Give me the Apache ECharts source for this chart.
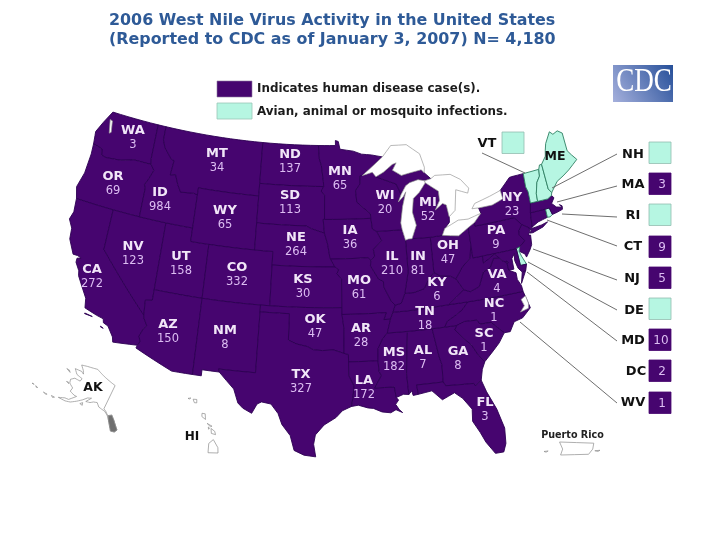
<!DOCTYPE html>
<html><head><meta charset="utf-8">
<style>html,body{margin:0;padding:0;background:#fff}#c{width:720px;height:540px}</style>
<script src="https://cdn.jsdelivr.net/npm/echarts@6/dist/echarts.min.js"></script>
</head><body><div id="c"></div>
<script>
// ---------- data ----------
const titleLines = ['2006 West Nile Virus Activity in the United States','(Reported to CDC as of January 3, 2007) N= 4,180'];
const legendLabels = ['Indicates human disease case(s).','Avian, animal or mosquito infections.'];
const humanStates = ['WA','OR','ID','MT','ND','SD','WY','NV','CA','UT','CO','NE','KS','AZ','NM','OK','TX','MN','IA','MO','AR','LA','MS','AL','TN','KY','IL','IN','WI','MI','OH','PA','NY','VA','NC','SC','GA','FL'];
const humanCases =  [3,69,984,34,137,113,65,123,272,158,332,264,30,150,8,47,327,65,36,61,28,172,182,7,18,6,210,81,20,52,47,9,23,4,1,1,8,3];
const calloutStates = ['VT','NH','MA','RI','CT','NJ','DE','MD','DC','WV'];
const calloutCases =  [null,null,3,null,9,5,null,10,2,1];
const otherInfectionLabelled = ['ME'];

// ---------- state outlines, lon/lat ----------
const outlines = {
WA:[[[-124.15,47.2],[-123.55,48.05],[-122.76,49],[-117.03,49],[-117.04,46.42],[-116.92,45.99],[-118.98,46],[-119.3,45.93],[-120.5,45.7],[-121.2,45.65],[-122.2,45.58],[-122.75,45.65],[-122.9,46.1],[-123.4,46.2],[-124,46.27],[-124.1,46.9]]],
OR:[[[-124,46.27],[-123.4,46.2],[-122.9,46.1],[-122.75,45.65],[-122.2,45.58],[-121.2,45.65],[-120.5,45.7],[-119.3,45.93],[-118.98,46],[-116.92,45.99],[-116.46,45.6],[-116.85,44.9],[-117.2,44.4],[-117.03,44.2],[-117.03,42],[-120,42],[-124.21,42],[-124.55,42.84],[-124.1,44],[-123.95,45.5]]],
CA:[[[-124.21,42],[-120,42],[-120,39],[-114.63,35],[-114.57,34.8],[-114.14,34.27],[-114.43,34],[-114.72,33.4],[-114.52,33.03],[-114.72,32.72],[-117.12,32.53],[-117.25,32.9],[-117.9,33.6],[-118.4,33.75],[-118.5,34.03],[-119.2,34.15],[-120.5,34.45],[-120.65,35.15],[-121.9,36.6],[-122,36.95],[-122.5,37.5],[-122.5,37.8],[-122.1,37.9],[-122.5,38],[-123,38],[-123.75,39],[-123.85,39.8],[-124.35,40.4],[-124.1,41]],[[-120.4,34.03],[-119.6,33.98],[-119.6,34.05],[-120.4,34.08]],[[-118.6,33.45],[-118.3,33.35],[-118.35,33.3],[-118.6,33.4]]],
NV:[[[-120,42],[-117.03,42],[-114.04,42],[-114.04,37],[-114.04,36.2],[-114.74,36.1],[-114.63,35],[-120,39]]],
UT:[[[-114.04,42],[-111.05,42],[-111.05,41],[-109.05,41],[-109.05,37],[-114.04,37]]],
AZ:[[[-114.04,37],[-109.05,37],[-109.05,31.33],[-111.07,31.33],[-114.81,32.5],[-114.72,32.72],[-114.52,33.03],[-114.72,33.4],[-114.43,34],[-114.14,34.27],[-114.57,34.8],[-114.63,35],[-114.74,36.1],[-114.04,36.2]]],
ID:[[[-117.03,49],[-116.05,49],[-116.05,48],[-115.7,47.45],[-114.7,46.7],[-114.35,46.65],[-114.5,45.55],[-113.9,45.65],[-113.45,44.95],[-113,44.45],[-111.5,44.55],[-111.05,44.48],[-111.05,42],[-114.04,42],[-117.03,42],[-117.03,44.2],[-117.2,44.4],[-116.85,44.9],[-116.46,45.6],[-116.92,45.99],[-117.04,46.42]]],
MT:[[[-116.05,49],[-104.05,49],[-104.05,45.94],[-104.05,45],[-111.05,45],[-111.05,44.48],[-111.5,44.55],[-113,44.45],[-113.45,44.95],[-113.9,45.65],[-114.5,45.55],[-114.35,46.65],[-114.7,46.7],[-115.7,47.45],[-116.05,48]]],
WY:[[[-111.05,45],[-104.05,45],[-104.05,43],[-104.05,41],[-109.05,41],[-111.05,41]]],
CO:[[[-109.05,41],[-104.05,41],[-102.05,41],[-102.05,40],[-102.05,37],[-103,37],[-109.05,37]]],
NM:[[[-109.05,37],[-103,37],[-103,36.5],[-103.04,32],[-106.62,32],[-106.53,31.78],[-108.2,31.78],[-108.2,31.33],[-109.05,31.33]]],
ND:[[[-104.05,49],[-97.23,49],[-97.1,48],[-96.85,47.5],[-96.6,46.3],[-96.56,45.94],[-104.05,45.94]]],
SD:[[[-104.05,45.94],[-96.56,45.94],[-96.85,45.6],[-96.45,45.3],[-96.45,43.5],[-96.6,43.5],[-96.45,42.49],[-97.9,42.8],[-98.5,43],[-104.05,43]]],
NE:[[[-104.05,43],[-98.5,43],[-97.9,42.8],[-96.45,42.49],[-96.1,41.7],[-95.85,40.7],[-95.77,40.58],[-95.31,40],[-102.05,40],[-102.05,41],[-104.05,41]]],
KS:[[[-102.05,40],[-95.31,40],[-94.9,39.8],[-95.1,39.5],[-94.61,39.1],[-94.62,37],[-102.05,37]]],
OK:[[[-103,37],[-102.05,37],[-94.62,37],[-94.62,36.5],[-94.43,35.4],[-94.48,33.64],[-95.5,33.9],[-96.6,33.85],[-97.5,33.9],[-98.1,34.13],[-99.2,34.3],[-100,34.56],[-100,36.5],[-103,36.5]]],
TX:[[[-103,36.5],[-100,36.5],[-100,34.56],[-99.2,34.3],[-98.1,34.13],[-97.5,33.9],[-96.6,33.85],[-95.5,33.9],[-94.48,33.64],[-94.04,33.55],[-94.04,33],[-94.04,32],[-93.55,31.2],[-93.7,30.3],[-93.85,29.7],[-94.7,29.4],[-95.3,28.9],[-96.4,28.35],[-97.2,27.6],[-97.35,26.9],[-97.15,25.96],[-98.2,26.07],[-99.1,26.4],[-99.5,27.5],[-100.3,28.3],[-100.7,29.1],[-101.4,29.77],[-102.3,29.88],[-102.7,29.7],[-103.15,28.98],[-104,29.3],[-104.5,29.65],[-105,30.65],[-106.53,31.78],[-106.62,32],[-103.04,32]]],
MN:[[[-97.23,49],[-95.15,49],[-95.15,49.38],[-94.8,49.3],[-94.6,48.72],[-93,48.55],[-92,48.3],[-90.8,48.2],[-89.5,48],[-92,46.7],[-92.29,46.66],[-92.29,46.1],[-92.85,45.6],[-92.75,44.75],[-91.25,43.85],[-91.22,43.5],[-96.45,43.5],[-96.45,45.3],[-96.85,45.6],[-96.56,45.94],[-96.6,46.3],[-96.85,47.5],[-97.1,48]]],
IA:[[[-96.45,43.5],[-91.22,43.5],[-91.1,42.7],[-90.64,42.51],[-90.15,41.8],[-91.1,41.2],[-91,40.7],[-91.42,40.38],[-91.73,40.61],[-95.77,40.58],[-95.85,40.7],[-96.1,41.7],[-96.45,42.49],[-96.6,43.5]]],
MO:[[[-95.77,40.58],[-91.73,40.61],[-91.42,40.38],[-91.5,40],[-90.7,39],[-90.2,38.8],[-90.2,38.4],[-89.5,37.3],[-89.13,37],[-89.4,36.5],[-89.7,36],[-90.37,36],[-90.1,36.5],[-94.62,36.5],[-94.62,37],[-94.61,39.1],[-95.1,39.5],[-94.9,39.8],[-95.31,40]]],
AR:[[[-94.62,36.5],[-90.1,36.5],[-90.37,36],[-89.7,36],[-90.1,35],[-90.6,34.6],[-91.1,33.9],[-91.17,33],[-94.04,33],[-94.04,33.55],[-94.48,33.64],[-94.43,35.4]]],
LA:[[[-94.04,33],[-91.17,33],[-91.1,32.2],[-90.9,31.9],[-91.6,31],[-89.73,31],[-89.6,30.2],[-89.4,30],[-89.7,29.7],[-89.4,29.3],[-89.1,29.05],[-89.7,29.3],[-90.2,29.1],[-91,29.2],[-91.8,29.5],[-92.3,29.55],[-93.2,29.78],[-93.85,29.7],[-93.7,30.3],[-93.55,31.2],[-94.04,32]]],
MS:[[[-90.1,35],[-88.2,35],[-88.1,34.9],[-88.47,31.9],[-88.4,30.35],[-88.9,30.4],[-89.6,30.2],[-89.73,31],[-91.6,31],[-90.9,31.9],[-91.1,32.2],[-91.17,33],[-91.1,33.9],[-90.6,34.6]]],
AL:[[[-88.2,35],[-85.6,35],[-85.18,32.87],[-85,32.3],[-85.05,31],[-87.6,31],[-87.5,30.3],[-88,30.25],[-88.1,30.6],[-88.4,30.35],[-88.47,31.9],[-88.1,34.9]]],
GA:[[[-85.6,35],[-84.32,35],[-83.1,35],[-83.35,34.7],[-82.55,33.95],[-81.9,33.4],[-81.4,32.6],[-80.85,32.03],[-81.2,31.5],[-81.45,30.72],[-82.05,30.36],[-82.2,30.57],[-84.86,30.7],[-85.05,31],[-85,32.3],[-85.18,32.87]]],
FL:[[[-87.6,31],[-85.05,31],[-84.86,30.7],[-82.2,30.57],[-82.05,30.36],[-81.45,30.72],[-81.1,29.8],[-80.4,28.4],[-79.95,26.9],[-80.05,25.75],[-80.35,25.15],[-81.1,25.15],[-81.8,26.1],[-82.2,26.9],[-82.75,27.8],[-82.65,28.7],[-83.4,29.6],[-84.1,30.1],[-85.3,29.7],[-86.2,30.45],[-87.5,30.3]]],
TN:[[[-90.1,35],[-88.2,35],[-85.6,35],[-84.32,35],[-84,35.4],[-83,35.78],[-82.4,36.05],[-81.68,36.59],[-83.68,36.6],[-88.07,36.5],[-89.4,36.5],[-89.7,36]]],
NC:[[[-84.32,35],[-83.1,35],[-82.3,35.2],[-81.05,35.15],[-80.8,34.82],[-79.68,34.8],[-78.55,33.86],[-77.95,33.85],[-77.4,34.5],[-76.5,34.65],[-75.55,35.25],[-75.95,36.55],[-81.68,36.59],[-82.4,36.05],[-83,35.78],[-84,35.4]]],
SC:[[[-83.1,35],[-82.3,35.2],[-81.05,35.15],[-80.8,34.82],[-79.68,34.8],[-78.55,33.86],[-79.2,33.2],[-79.9,32.7],[-80.85,32.03],[-81.4,32.6],[-81.9,33.4],[-82.55,33.95],[-83.35,34.7]]],
VA:[[[-83.68,36.6],[-81.68,36.59],[-75.95,36.55],[-76,37],[-76.3,37.5],[-76.3,38],[-77,38.3],[-77.04,38.79],[-77.12,38.93],[-77.5,39.1],[-77.72,39.32],[-78.35,39.4],[-78.87,38.77],[-79.65,38.55],[-80.3,37.55],[-81.3,37.3],[-81.95,37.53]],[[-75.65,37.95],[-75.25,38.03],[-75.95,37.15]]],
WV:[[[-81.95,37.53],[-81.3,37.3],[-80.3,37.55],[-79.65,38.55],[-78.87,38.77],[-78.35,39.4],[-77.72,39.32],[-78.2,39.69],[-79.48,39.21],[-79.48,39.72],[-80.52,39.72],[-80.52,40.64],[-80.87,39.7],[-81.75,39.2],[-82.6,38.4]]],
KY:[[[-89.4,36.5],[-88.07,36.5],[-83.68,36.6],[-81.95,37.53],[-82.6,38.4],[-83.1,38.65],[-84.2,38.8],[-84.82,39.1],[-85.4,38.7],[-86,38],[-87.1,37.8],[-88.05,37.8],[-88.5,37.1],[-89.13,37]]],
OH:[[[-84.82,39.1],[-84.2,38.8],[-83.1,38.65],[-82.6,38.4],[-81.75,39.2],[-80.87,39.7],[-80.52,40.64],[-80.52,41.98],[-81.7,41.5],[-83.45,41.72],[-84.8,41.7]]],
IN:[[[-87.53,41.7],[-87.2,41.76],[-86.8,41.76],[-84.8,41.7],[-84.82,39.1],[-85.4,38.7],[-86,38],[-87.1,37.8],[-88.05,37.8],[-87.53,39.35]]],
IL:[[[-90.64,42.51],[-87.8,42.49],[-87.53,41.7],[-87.53,39.35],[-88.05,37.8],[-88.5,37.1],[-89.13,37],[-89.5,37.3],[-90.2,38.4],[-90.2,38.8],[-90.7,39],[-91.5,40],[-91.42,40.38],[-91,40.7],[-91.1,41.2],[-90.15,41.8]]],
WI:[[[-92.29,46.66],[-92,46.7],[-90.8,46.9],[-90.4,46.55],[-88.1,45.9],[-87.6,45.1],[-88,44.55],[-87.4,44.9],[-87.05,45.25],[-87.55,44.2],[-87.9,43],[-87.8,42.49],[-90.64,42.51],[-91.1,42.7],[-91.22,43.5],[-91.25,43.85],[-92.75,44.75],[-92.85,45.6],[-92.29,46.1]]],
MI:[[[-90.4,46.55],[-89.5,46.85],[-88.4,47.37],[-87.9,47.47],[-88.4,46.95],[-87.4,46.5],[-86.1,46.65],[-85,46.75],[-84.7,46.5],[-84,46],[-84.75,45.9],[-85.5,46.05],[-86.5,45.9],[-87,45.7],[-87.6,45.1],[-88.1,45.9]],[[-86.8,41.76],[-84.8,41.7],[-83.45,41.72],[-83.1,42.2],[-82.5,42.6],[-82.45,43],[-82.6,43.9],[-83,44.05],[-83.9,43.65],[-83.3,44.3],[-83.3,45],[-84.7,45.75],[-85.5,45.1],[-86.25,44.7],[-86.5,43.7],[-86.2,42.7]]],
PA:[[[-80.52,41.98],[-79.76,42.27],[-79.76,42],[-75.35,42],[-74.7,41.36],[-75.13,40.98],[-75.2,40.65],[-74.72,40.15],[-75.4,39.8],[-75.79,39.72],[-79.48,39.72],[-80.52,39.72],[-80.52,40.64]]],
NY:[[[-79.76,42.27],[-78.9,42.85],[-79.05,43.27],[-77.5,43.27],[-76.2,43.55],[-76.3,44.2],[-75,44.98],[-74.7,45],[-73.34,45],[-73.4,44],[-73.25,43.6],[-73.27,42.75],[-73.5,42.05],[-73.65,41],[-73.9,40.8],[-74,41],[-74.7,41.36],[-75.35,42],[-79.76,42]],[[-74,40.6],[-73.7,40.9],[-72.6,40.97],[-71.9,41.07],[-72.5,40.8],[-73.7,40.58]]],
NJ:[[[-74.7,41.36],[-74,41],[-74,40.7],[-74.25,40.5],[-74,40.45],[-74.1,39.75],[-74.4,39.4],[-74.9,38.95],[-75,39.2],[-75.55,39.5],[-75.4,39.8],[-74.72,40.15],[-75.2,40.65],[-75.13,40.98]]],
DE:[[[-75.79,39.72],[-75.4,39.8],[-75.55,39.5],[-75.4,39.1],[-75.05,38.45],[-75.7,38.45]]],
MD:[[[-79.48,39.72],[-75.79,39.72],[-75.7,38.45],[-75.05,38.45],[-75.25,38.03],[-75.65,37.95],[-76,38.3],[-76.2,38.9],[-76.1,39.4],[-76.45,39.1],[-76.45,38.3],[-77,38.3],[-77.04,38.79],[-76.91,38.89],[-77.04,39],[-77.12,38.93],[-77.5,39.1],[-77.72,39.32],[-78.2,39.69],[-79.48,39.21]]],
DC:[[[-77.12,38.93],[-77.04,39],[-76.91,38.89],[-77.04,38.79]]],
CT:[[[-73.5,42.05],[-71.8,42.02],[-71.8,41.4],[-72.9,41.25],[-73.65,41]]],
RI:[[[-71.8,42.02],[-71.38,42.02],[-71.2,41.5],[-71.5,41.37],[-71.8,41.4]]],
MA:[[[-73.5,42.05],[-73.27,42.75],[-72.45,42.73],[-71.3,42.7],[-70.8,42.87],[-70.6,42.65],[-71,42.3],[-70.6,41.95],[-70,41.8],[-70.2,42.05],[-69.95,41.9],[-70,41.65],[-70.65,41.55],[-71.2,41.5],[-71.38,42.02],[-71.8,42.02]]],
VT:[[[-73.34,45],[-71.5,45],[-71.6,44.5],[-72.05,44.1],[-72.4,43.3],[-72.45,42.73],[-73.27,42.75],[-73.25,43.6],[-73.4,44]]],
NH:[[[-71.5,45],[-71.3,45.3],[-71.05,45.3],[-70.98,43.4],[-70.7,43.07],[-70.8,42.87],[-71.3,42.7],[-72.45,42.73],[-72.4,43.3],[-72.05,44.1],[-71.6,44.5]]],
ME:[[[-71.05,45.3],[-70.4,45.8],[-70.25,46.2],[-70,46.7],[-69.23,47.46],[-68.9,47.2],[-68.3,47.35],[-67.8,47.07],[-67.8,45.7],[-67.45,45.3],[-67,44.85],[-68.2,44.3],[-69,44],[-69.8,43.75],[-70.7,43.07],[-70.98,43.4]]]
};
const lakes = {
Superior:[[[-92,46.7],[-89.5,48],[-88.4,48.8],[-86.5,48.75],[-85,47.95],[-84.6,46.9],[-84.7,46.5],[-85,46.75],[-86.1,46.65],[-87.4,46.5],[-88.4,46.95],[-87.9,47.47],[-88.4,47.37],[-89.5,46.85],[-90.4,46.55],[-90.8,46.9]]],
Michigan:[[[-87,45.7],[-86.5,45.9],[-85.5,46.05],[-84.75,45.9],[-84.7,45.75],[-85.5,45.1],[-86.25,44.7],[-86.5,43.7],[-86.2,42.7],[-86.8,41.76],[-87.2,41.76],[-87.53,41.7],[-87.8,42.49],[-87.9,43],[-87.55,44.2],[-87.05,45.25],[-87.4,44.9],[-88,44.55],[-87.6,45.1]]],
Huron:[[[-84,46],[-84.75,45.9],[-84.7,45.75],[-83.3,45],[-83.3,44.3],[-83.9,43.65],[-83,44.05],[-82.6,43.9],[-82.45,43],[-81.7,43.4],[-81.3,44.9],[-80,44.5],[-79.8,44.85],[-80.6,45.6],[-81.7,46.1],[-83.5,46.2]]],
Erie:[[[-83.45,41.72],[-81.7,41.5],[-80.52,41.98],[-79.76,42.27],[-78.9,42.85],[-80.4,42.6],[-81.5,42.65],[-83.1,42.2]]],
Ontario:[[[-79.05,43.27],[-77.5,43.27],[-76.2,43.55],[-76.3,44.2],[-77.6,43.95],[-79.4,43.65],[-79.8,43.3]]],
Pamlico:[[[-76.6,35.1],[-75.75,35.25],[-75.65,35.6],[-75.8,36.2],[-76.3,36],[-76.1,35.5]]],
Puget:[[[-122.85,48.4],[-122.55,47.4],[-122.35,47.5],[-122.55,48.35]]]
};
const akOutline = [[[-141,69.65],[-141,60.3],[-139.5,59.9],[-137.5,58.9],[-135.5,59.7],[-133.4,58.4],[-130,55.9],[-131,55],[-133,54.8],[-134.5,56.2],[-136.5,58],[-138,59],[-140,59.7],[-144,60],[-146,61],[-148,60.5],[-149.5,59.7],[-151.8,59.2],[-150,61.2],[-152,60.5],[-153.8,59],[-156,57.5],[-158.5,56],[-161,55.2],[-164.8,54.6],[-162,55.9],[-160,56.3],[-157.5,58.7],[-159,58.5],[-162,58.7],[-162,60],[-165,60.6],[-166,61.7],[-164.5,63],[-161,63.5],[-161,64.6],[-165,64.5],[-168,65.6],[-164,66.5],[-162,66.2],[-163.5,67.2],[-166.5,68.3],[-163,69.5],[-156.5,71.3],[-150,70.5]],
[[-153.9,57.5],[-152.3,57.5],[-152.9,58.3]],[[-168,53.5],[-166.3,53.8],[-167,53.3]],[[-172,52.4],[-170,52.8],[-170.5,52.5]],[[-176.8,51.9],[-175.5,52],[-176,51.7]],[[-178.9,51.5],[-177.8,51.8],[-178,51.6]],[[-171.7,63.4],[-168.8,63.3],[-170,63.7]],[[-166.9,60.2],[-165.2,60.2],[-166,60.5]]];
const akPanhandle = [[[-135.5,59.6],[-133.4,58.4],[-130,55.9],[-131,55],[-133,54.8],[-134.5,56.2],[-136.5,58],[-137.2,58.9]]];
const hiOutline = [[[-160.25,21.8],[-160.05,22],[-160.1,21.85]],[[-159.8,22.05],[-159.5,22.25],[-159.3,22],[-159.5,21.87]],[[-158.28,21.55],[-158,21.7],[-157.65,21.3],[-158.1,21.3]],[[-157.3,21.1],[-156.75,21.18],[-156.85,21.05]],[[-156.7,20.95],[-156.25,20.95],[-156,20.75],[-156.4,20.6]],[[-157,20.9],[-156.85,20.9],[-156.85,20.75]],[[-155.9,20.25],[-155.1,19.9],[-154.8,19.5],[-155.6,18.95],[-156.05,19.7]]];
const prOutline = [[[-67.25,18.5],[-65.6,18.45],[-65.65,18.2],[-65.85,17.98],[-67.2,17.95],[-67.1,18.2]],[[-65.55,18.13],[-65.3,18.15],[-65.4,18.1]],[[-68.0,18.1],[-67.8,18.12],[-67.9,18.07]]];

// ---------- projection, layout ----------
function albers(lon0,lat0,p1,p2,kx,ky,ox,oy){
  const r=Math.PI/180, s1=Math.sin(p1*r), s2=Math.sin(p2*r);
  const n=(s1+s2)/2, C=Math.cos(p1*r)**2+2*n*s1, rho0=Math.sqrt(C-2*n*Math.sin(lat0*r))/n;
  return {
    project(c){const rho=Math.sqrt(C-2*n*Math.sin(c[1]*r))/n, t=n*(c[0]-lon0)*r;
      return [ox+kx*rho*Math.sin(t), oy-ky*(rho0-rho*Math.cos(t))];},
    unproject(p){const x=(p[0]-ox)/kx, y=(oy-p[1])/ky, q=rho0-y, rho=Math.sqrt(x*x+q*q), t=Math.atan2(x,q);
      return [lon0+t/n/r, Math.asin((C-(rho*n)*(rho*n))/(2*n))/r];}
  };
}
const conus = albers(-96,37.5,29.5,45.5,704,772,328.5,301);
const insetProj = albers(-96,37.5,29.5,45.5,100,100,0,0);

// label block centres, pixels
const labelAnchor = {WA:[133,138],OR:[113,184],ID:[160,200],MT:[217,161],ND:[290,162],SD:[290,203],WY:[225,218],NV:[133,254],CA:[92,277],UT:[181,264],CO:[237,275],NE:[296,245],KS:[303,287],AZ:[168,332],NM:[225,338],OK:[315,327],TX:[301,382],MN:[340,179],IA:[350,238],MO:[359,288],AR:[361,336],LA:[364,388],MS:[394,360],AL:[423,358],TN:[425,319],KY:[437,290],IL:[392,264],IN:[418,264],WI:[385,203],MI:[428,210],OH:[448,253],PA:[496,238],NY:[512,205],VA:[497,282],NC:[494,311],SC:[484,341],GA:[458,359],FL:[485,410],ME:[555,157]};

function densify(ring){
  const out=[];
  ring.forEach((p,i)=>{const q=ring[(i+1)%ring.length], m=Math.max(1,Math.ceil(Math.abs(q[0]-p[0])/1));
    for(let j=0;j<m;j++) out.push([p[0]+(q[0]-p[0])*j/m,p[1]+(q[1]-p[1])*j/m]);});
  out.push(out[0].slice());
  return out;
}
function feature(name,polys,cp){
  const properties={name}; if(cp) properties.cp=cp;
  return {type:'Feature',properties,geometry:{type:'MultiPolygon',coordinates:polys.map(r=>[densify(r)])}};
}
const usFeatures=[];
Object.keys(outlines).forEach(k=>usFeatures.push(feature(k,outlines[k],labelAnchor[k]?conus.unproject(labelAnchor[k]):null)));
Object.keys(lakes).forEach(k=>usFeatures.push(feature(k,lakes[k])));
echarts.registerMap('conus',{type:'FeatureCollection',features:usFeatures});
echarts.registerMap('alaska',{type:'FeatureCollection',features:[feature('AK',akOutline),feature('AKSE',akPanhandle)]});
echarts.registerMap('hawaii',{type:'FeatureCollection',features:[feature('HI',hiOutline)]});
echarts.registerMap('puertorico',{type:'FeatureCollection',features:[feature('PR',prOutline)]});

// bounding box of the projected lower 48, so that projected units are page pixels
let bx0=1e9,bx1=-1e9,by0=1e9,by1=-1e9;
usFeatures.forEach(f=>f.geometry.coordinates.forEach(pg=>pg[0].forEach(c=>{const p=conus.project(c);
  bx0=Math.min(bx0,p[0]);bx1=Math.max(bx1,p[0]);by0=Math.min(by0,p[1]);by1=Math.max(by1,p[1]);})));

const PURPLE='#46056f', TEAL='#b6f6e2', EDGE='#2c0052', TEAL_EDGE='#2f7f62', LAV='#dcbdf2', NAMEC='#f1e6f8', LAKE='#9a9a9a';
const dark=new Set(humanStates.concat(calloutStates.filter((s,i)=>calloutCases[i]!=null)));

const mapData=[];
humanStates.forEach((s,i)=>mapData.push({name:s,value:humanCases[i],itemStyle:{areaColor:PURPLE,borderColor:EDGE},
  label:{show:true,formatter:'{n|'+s+'}\n{v|'+humanCases[i]+'}'}}));
calloutStates.forEach((s,i)=>mapData.push({name:s,value:calloutCases[i]==null?0:calloutCases[i],
  itemStyle:{areaColor:dark.has(s)?PURPLE:TEAL,borderColor:dark.has(s)?EDGE:TEAL_EDGE},label:{show:false}}));
otherInfectionLabelled.forEach(s=>mapData.push({name:s,value:0,itemStyle:{areaColor:TEAL,borderColor:TEAL_EDGE},
  label:{show:true,formatter:'{m|'+s+'}'}}));
Object.keys(lakes).forEach(k=>mapData.push({name:k,value:0,itemStyle:{areaColor:'#fff',borderColor:LAKE,borderWidth:0.7},label:{show:false}}));

function inset(map,projection,box,data){
  const s={type:'map',map,silent:true,showLegendSymbol:false,preserveAspect:false,left:box[0],top:box[1],width:box[2],height:box[3],
    itemStyle:{areaColor:'#fff',borderColor:'#8c8c8c',borderWidth:0.7},label:{show:false},
    emphasis:{disabled:true},select:{disabled:true},data:data||[]};
  if(projection) s.projection=projection;
  return s;
}

// ---------- annotation chrome ----------
const g=[];
const boldFont='bold 13px "DejaVu Sans"';
g.push({type:'rect',shape:{x:217,y:81,width:35,height:16},style:{fill:PURPLE,stroke:'#8e7aa0',lineWidth:0.6}});
g.push({type:'rect',shape:{x:217,y:103,width:35,height:16},style:{fill:TEAL,stroke:'#9ac6b8',lineWidth:0.8}});
legendLabels.forEach((t,i)=>g.push({type:'text',style:{x:257,y:89+i*23,text:t,font:'bold 11.9px "DejaVu Sans"',fill:'#1c1c1c',verticalAlign:'middle'}}));
// logo
g.push({type:'rect',shape:{x:613,y:65,width:60,height:37},style:{fill:new echarts.graphic.LinearGradient(0,1,1,0,[{offset:0,color:'#a5b0dc'},{offset:1,color:'#264f99'}])}});
g.push({type:'text',x:644,y:82.5,scaleX:0.82,style:{x:0,y:0,text:'CDC',font:'33px "Liberation Serif"',fill:'#fff',align:'center',verticalAlign:'middle'}});
// callouts: box top-left, label centre, leader from label to state
const calloutLayout={
 VT:{box:[502,132],txt:[487,144],line:[[482,153],[525,173]]},
 NH:{box:[649,142],txt:[633,155],line:[[617,154],[552,188]]},
 MA:{box:[649,173],txt:[633,185],line:[[617,186],[557,202]]},
 RI:{box:[649,204],txt:[633,216],line:[[617,217],[562,214]]},
 CT:{box:[649,236],txt:[633,247],line:[[617,246],[547,220]]},
 NJ:{box:[649,267],txt:[632,279],line:[[617,280],[533,249]]},
 DE:{box:[649,298],txt:[634,311],line:[[617,310],[528,262]]},
 MD:{box:[649,329],txt:[633,341],line:[[617,341],[527,272]]},
 DC:{box:[649,360],txt:[636,372]},
 WV:{box:[649,392],txt:[633,403],line:[[617,403],[520,322]]}
};
calloutStates.forEach((s,i)=>{
  const L=calloutLayout[s], v=calloutCases[i];
  if(L.line) g.push({type:'line',shape:{x1:L.line[0][0],y1:L.line[0][1],x2:L.line[1][0],y2:L.line[1][1]},style:{stroke:'#5e5e5e',lineWidth:0.9},z:5});
  g.push({type:'rect',shape:{x:L.box[0],y:L.box[1],width:22,height:21.5},style:{fill:v==null?TEAL:PURPLE,stroke:v==null?'#93bdb0':PURPLE,lineWidth:0.8}});
  g.push({type:'text',style:{x:L.txt[0],y:L.txt[1],text:s,font:boldFont,fill:'#111',align:'center',verticalAlign:'middle'}});
  if(v!=null) g.push({type:'text',style:{x:L.box[0]+(v>9?12:13),y:L.box[1]+12,text:String(v),font:'12px "DejaVu Sans"',fill:LAV,align:'center',verticalAlign:'middle'}});
});
[['AK',93,388,12.5],['HI',192,437,12]].forEach(a=>g.push({type:'text',style:{x:a[1],y:a[2],text:a[0],font:'bold '+a[3]+'px "DejaVu Sans"',fill:'#111',align:'center',verticalAlign:'middle'},z:10}));
g.push({type:'text',style:{x:572.5,y:435,text:'Puerto Rico',font:'bold 9.6px "DejaVu Sans"',fill:'#222',align:'center',verticalAlign:'middle'}});

const chart=echarts.init(document.getElementById('c'),null,{renderer:'canvas'});
chart.setOption({
  animation:false,backgroundColor:'#fff',
  title:{left:109,top:11.5,padding:0,itemGap:0,text:titleLines.join('\n'),textStyle:{fontFamily:'DejaVu Sans',fontWeight:'bold',fontSize:15.9,lineHeight:19,color:'#2e5a97'}},
  graphic:{elements:g},
  series:[
    {type:'map',map:'conus',silent:true,showLegendSymbol:false,preserveAspect:false,projection:conus,
     left:bx0,top:by0,width:bx1-bx0,height:by1-by0,
     itemStyle:{areaColor:PURPLE,borderColor:EDGE,borderWidth:0.9},
     emphasis:{disabled:true},select:{disabled:true},
     label:{show:true,rich:{
       n:{fontFamily:'DejaVu Sans',fontWeight:'bold',fontSize:13,color:NAMEC,lineHeight:15,align:'center'},
       v:{fontFamily:'DejaVu Sans',fontSize:11.5,color:LAV,lineHeight:15,align:'center'},
       m:{fontFamily:'DejaVu Sans',fontWeight:'bold',fontSize:12.5,color:'#111'}}},
     data:mapData},
    inset('alaska',insetProj,[32,365,85,67],[{name:'AKSE',value:0,itemStyle:{areaColor:'#6f6f6f'}}]),
    inset('hawaii',insetProj,[188,398,30,55]),
    inset('puertorico',null,[544,442,56,13])
  ]
});
</script></body></html>
